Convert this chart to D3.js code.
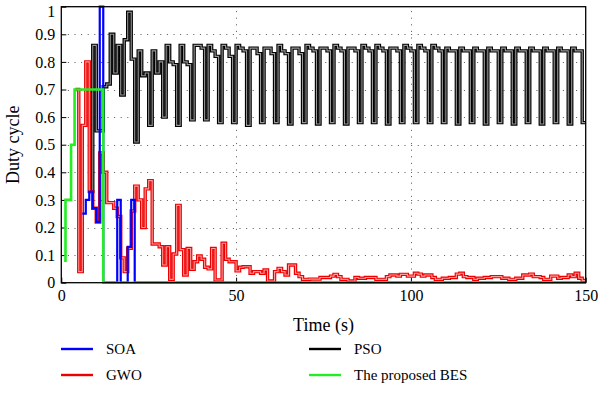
<!DOCTYPE html>
<html>
<head>
<meta charset="utf-8">
<style>
  body { margin: 0; background: #fff; }
  svg text { font-family: "Liberation Serif", "DejaVu Serif", serif; fill: #000; }
</style>
</head>
<body>
<svg id="chart" width="600" height="393"></svg>
<script src="https://cdn.jsdelivr.net/npm/d3@7"></script>
<script>
// ---- data (step values, one per second) ----
var endTime = 150

var psoStart = 8
var psoValues = [
  0.33, 0.86, 0.55, 0.55, 0.71, 0.72, 0.90, 0.76, 0.86, 0.68, 0.88, 0.98, 0.81,
  0.51, 0.84, 0.75, 0.76, 0.57, 0.84, 0.76, 0.80, 0.60, 0.86, 0.80, 0.79,
  0.57, 0.86, 0.80, 0.79, 0.59, 0.86, 0.86, 0.85, 0.59, 0.86, 0.84, 0.82,
  0.58, 0.86, 0.85, 0.82, 0.58, 0.86, 0.85, 0.84, 0.57, 0.85, 0.85, 0.83,
  0.58, 0.85, 0.85, 0.83, 0.58, 0.86, 0.84, 0.83, 0.575, 0.85, 0.85, 0.83,
  0.58, 0.86, 0.85, 0.84, 0.575, 0.85, 0.85, 0.84, 0.58, 0.86, 0.85, 0.84,
  0.575, 0.85, 0.85, 0.84, 0.58, 0.86, 0.85, 0.84, 0.58, 0.86, 0.85, 0.84,
  0.575, 0.85, 0.85, 0.84, 0.58, 0.86, 0.85, 0.84, 0.58, 0.86, 0.85, 0.84,
  0.58, 0.86, 0.85, 0.84, 0.58, 0.85, 0.84, 0.84, 0.575, 0.85, 0.84, 0.84,
  0.58, 0.85, 0.84, 0.84, 0.575, 0.85, 0.84, 0.84, 0.58, 0.85, 0.84, 0.84,
  0.575, 0.85, 0.84, 0.84, 0.58, 0.85, 0.84, 0.84, 0.575, 0.85, 0.84, 0.84,
  0.58, 0.85, 0.84, 0.84, 0.575, 0.85, 0.84, 0.84, 0.58
]

var gwoStart = 4
var gwoValues = [
  0.70, 0.04, 0.57, 0.80, 0.33, 0.27, 0.22, 0.47, 0.40, 0.29, 0.29, 0.27,
  0.24, 0.09, 0.04, 0.125, 0.26, 0.35, 0.30, 0.20, 0.34, 0.37, 0.14, 0.14,
  0.13, 0.064, 0.13, 0.012, 0.104, 0.28, 0.12, 0.028, 0.124, 0.049, 0.076, 0.097,
  0.085, 0.056, 0.05, 0.124, 0.01, 0.01, 0.143, 0.085, 0.076, 0.076, 0.043, 0.056,
  0.058, 0.058, 0.034, 0.04, 0.04, 0.034, 0.046, 0.006, 0.006, 0.04, 0.052, 0.04,
  0.028, 0.064, 0.064, 0.034, 0.022, 0.012, 0.012, 0.013, 0.013, 0.013, 0.019, 0.019,
  0.019, 0.024, 0.03, 0.022, 0.012, 0.012, 0.006, 0.006, 0.019, 0.016, 0.016, 0.019,
  0.019, 0.019, 0.012, 0.012, 0.012, 0.022, 0.028, 0.028, 0.024, 0.03, 0.03, 0.024,
  0.024, 0.034, 0.031, 0.024, 0.028, 0.028, 0.019, 0.012, 0.012, 0.016, 0.016, 0.019,
  0.019, 0.031, 0.034, 0.022, 0.019, 0.019, 0.012, 0.016, 0.016, 0.019, 0.019, 0.022,
  0.022, 0.022, 0.016, 0.016, 0.012, 0.012, 0.016, 0.016, 0.028, 0.028, 0.031, 0.022,
  0.022, 0.019, 0.012, 0.012, 0.024, 0.024, 0.016, 0.019, 0.019, 0.028, 0.022, 0.034,
  0.016, 0.008
]

// SOA and BES only change a few times: time of each change and the new value
var soaTime = [6, 7, 8, 9, 10, 11, 12, 16, 17, 19, 20, 21, 150]
var soaValues = [0.25, 0.30, 0.33, 0.27, 0.22, 1.0, 0, 0.30, 0, 0.13, 0.30, 0, 0]

var besTime = [0.8, 1.2, 2.8, 3.8, 12, 150]
var besValues = [0.08, 0.30, 0.50, 0.70, 0, 0]

var xTicks = [0, 50, 100, 150]
var yTicks = [0, 0.1, 0.2, 0.3, 0.4, 0.5, 0.6, 0.7, 0.8, 0.9, 1]
var xGrid = [50, 100]
var yGrid = [0.1, 0.2, 0.3, 0.4, 0.5, 0.6, 0.7, 0.8, 0.9]

// ---- layout ----
var plot = {left: 61.3, right: 585.7, top: 6.7, bottom: 282.7}

var svg = d3.select("#chart")

var xScale = d3.scaleLinear().domain([0, endTime]).range([plot.left, plot.right])
var yScale = d3.scaleLinear().domain([0, 1]).range([plot.bottom, plot.top])

// per-second series -> points, with a last point so the final step reaches the end
function perSecond(start, values) {
  var pts = values.map(function(v, i) { return [start + i, v] })
  pts.push([endTime, values[values.length - 1]])
  return pts
}
function changes(times, values) {
  return times.map(function(t, i) { return [t, values[i]] })
}

// grid
var grid = svg.append("g").attr("stroke", "#555").attr("stroke-width", 1)
    .attr("stroke-dasharray", "1,5.6")
grid.selectAll(".hg").data(yGrid).enter().append("line")
    .attr("x1", plot.left).attr("x2", plot.right)
    .attr("y1", function(d) { return Math.round(yScale(d)) + 0.5 })
    .attr("y2", function(d) { return Math.round(yScale(d)) + 0.5 })
grid.selectAll(".vg").data(xGrid).enter().append("line")
    .attr("y1", plot.bottom).attr("y2", plot.top)
    .attr("x1", function(d) { return Math.round(xScale(d)) + 0.5 })
    .attr("x2", function(d) { return Math.round(xScale(d)) + 0.5 })

// axes (ticks point inward)
var xAxis = d3.axisBottom(xScale).tickValues(xTicks).tickSize(-5).tickPadding(7)
    .tickFormat(d3.format("~g"))
var yAxis = d3.axisLeft(yScale).tickValues(yTicks).tickSize(-5).tickPadding(6)
    .tickFormat(d3.format("~g"))

var gx = svg.append("g").attr("transform", "translate(0," + plot.bottom + ")").call(xAxis)
var gy = svg.append("g").attr("transform", "translate(" + plot.left + ",0)").call(yAxis)
gx.select(".domain").remove()
gy.select(".domain").remove()
svg.selectAll(".tick text").attr("font-size", 16)
    .attr("font-family", "Liberation Serif")
svg.selectAll(".tick line").attr("stroke", "#000")
// the top label sits against the edge; nudge it down a little
gy.selectAll(".tick text").filter(function(d) { return d === 1 }).attr("dy", "0.62em")

// curves
var line = d3.line()
    .x(function(d) { return xScale(d[0]) })
    .y(function(d) { return yScale(d[1]) })
    .curve(d3.curveStepAfter)

var lines = svg.append("g").attr("fill", "none").attr("stroke-linejoin", "miter")

function doubleLine(pts, outer, inner) {
  lines.append("path").datum(pts).attr("d", line)
      .attr("stroke", outer).attr("stroke-width", 3.4)
  lines.append("path").datum(pts).attr("d", line)
      .attr("stroke", inner).attr("stroke-width", 1.1)
}
doubleLine(perSecond(psoStart, psoValues), "#000", "#9a9a9a")
doubleLine(perSecond(gwoStart, gwoValues), "#ee0000", "#ff9c9c")
lines.append("path").datum(changes(soaTime, soaValues)).attr("d", line)
    .attr("stroke", "#0000ff").attr("stroke-width", 2.2)
lines.append("path").datum(changes(besTime, besValues)).attr("d", line)
    .attr("stroke", "#22ee22").attr("stroke-width", 2.6)

// frame
svg.append("rect")
    .attr("x", plot.left).attr("y", plot.top)
    .attr("width", plot.right - plot.left).attr("height", plot.bottom - plot.top)
    .attr("fill", "none").attr("stroke", "#000").attr("stroke-width", 1.3)

// axis titles
svg.append("text")
    .attr("x", (plot.left + plot.right) / 2).attr("y", 331)
    .attr("text-anchor", "middle").attr("font-size", 18)
    .text("Time (s)")
svg.append("text")
    .attr("transform", "translate(19," + (plot.top + plot.bottom) / 2 + ") rotate(-90)")
    .attr("text-anchor", "middle").attr("font-size", 18)
    .text("Duty cycle")

// legend
var legendColors = ["#0000ff", "#ee0000", "#000000", "#22ee22"]
var legendNames = ["SOA", "GWO", "PSO", "The proposed BES"]
var legend = svg.append("g")
var item = legend.selectAll("g").data(legendNames).enter().append("g")
    .attr("transform", function(d, i) {
      return "translate(" + (i < 2 ? 61 : 309) + "," + (i % 2 === 0 ? 349 : 375) + ")"
    })
item.append("line").attr("x1", 0).attr("x2", 32)
    .attr("stroke", function(d, i) { return legendColors[i] })
    .attr("stroke-width", 2.4)
item.append("text").attr("x", 45).attr("y", 5).attr("font-size", 15)
    .text(function(d) { return d })
</script>
</body>
</html>
